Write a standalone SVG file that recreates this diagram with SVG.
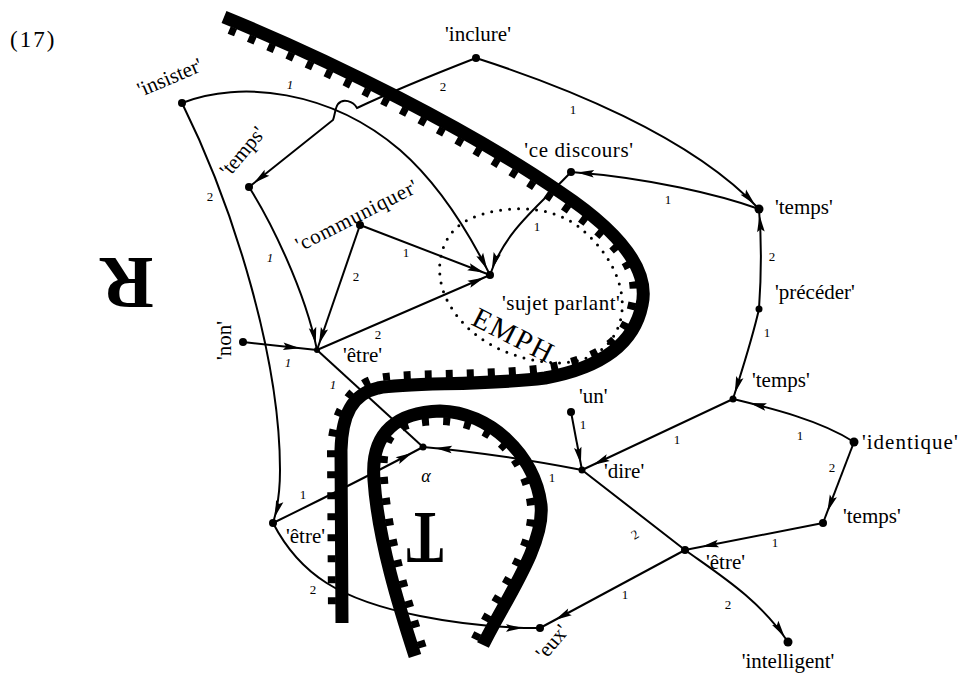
<svg xmlns="http://www.w3.org/2000/svg" width="959" height="679" viewBox="0 0 959 679">
<style>
.lbl{font-family:"Liberation Serif","Times New Roman",serif;font-size:21px;fill:#000}
.num{font-family:"Liberation Serif","Times New Roman",serif;font-size:13px;fill:#000;text-anchor:middle}
.e{fill:none;stroke:#000;stroke-width:2}
.band{fill:none;stroke:#000;stroke-width:13;stroke-linecap:butt;stroke-linejoin:round}
.teeth{fill:none;stroke:#000;stroke-width:8;stroke-dasharray:7 14}
.big{font-family:"Liberation Serif","Times New Roman",serif;font-weight:bold;fill:#000;text-anchor:middle;font-size:74px}
</style>
<defs>
<marker id="a7" viewBox="-45 -10 55 20" markerWidth="55" markerHeight="20" refX="0" refY="0" orient="auto" markerUnits="userSpaceOnUse"><path d="M-23,-3.8 L-6,0 L-23,3.8 L-20,0 Z" fill="#000"/></marker>
<marker id="a12" viewBox="-45 -10 55 20" markerWidth="55" markerHeight="20" refX="0" refY="0" orient="auto" markerUnits="userSpaceOnUse"><path d="M-29,-3.8 L-12,0 L-29,3.8 L-26,0 Z" fill="#000"/></marker>
<marker id="a17" viewBox="-45 -10 55 20" markerWidth="55" markerHeight="20" refX="0" refY="0" orient="auto" markerUnits="userSpaceOnUse"><path d="M-34,-3.8 L-17,0 L-34,3.8 L-31,0 Z" fill="#000"/></marker>
</defs>
<rect width="959" height="679" fill="#fff"/>

<text class="lbl" x="10" y="47" style="font-size:23px;letter-spacing:2px">(17)</text>

<g id="regions">
<path class="band" d="M 224 17 C 330 60, 470 130, 560 192 C 620 232, 650 270, 642 305 C 634 345, 600 368, 545 378 C 480 386, 410 382, 378 388 C 352 394, 342 415, 341 450 L 342 623"/>
<path class="teeth" stroke-dashoffset="-10" d="M 220.2 26.3 C 326.2 69.3, 464.3 138.2, 554.3 200.2 C 614.4 240.3, 640.3 267.8, 632.3 302.8 C 624.2 343, 598.2 358.2, 543.2 368.2 C 478.8 376.1, 408.2 372.2, 376.2 378.2 C 349.8 384.3, 332 414.7, 331 449.7 L 332 614"/>
<path class="band" stroke-width="14" d="M 415 656 C 400 610, 378 540, 374 480 C 370 430, 400 412, 440 411 C 490 412, 535 455, 541 505 C 545 545, 505 600, 483 645"/>
<path class="teeth" stroke-dasharray="7 12" stroke-dashoffset="-6" d="M 424.5 652.9 C 409.5 606.9, 388 539.3, 384 479.3 C 380 429.2, 400.3 422, 440.3 421 C 489.8 422, 525.1 456.2, 531.1 506.2 C 535 546, 496 595.6, 474 640.6"/>
<path fill="none" stroke="#000" stroke-width="3" stroke-linecap="round" stroke-dasharray="0 9" d="M 447 300 C 432 270, 440 232, 470 219 C 500 205, 550 203, 580 228 C 605 248, 628 282, 621 318 C 613 352, 585 362, 560 363 C 520 362, 470 345, 447 300 Z"/>
<text class="big" transform="translate(127,283) rotate(180)" y="25">R</text>
<text class="big" transform="translate(425,538) rotate(180) scale(0.75,1)" y="25">T</text>
<text class="lbl" style="font-size:29px;letter-spacing:2px" transform="translate(470,324) rotate(27)">EMPH</text>
</g>

<g id="edges">
<path class="e" marker-end="url(#a7)" d="M 182 103 C 240 80, 330 90, 400 150 C 440 185, 470 235, 490 275"/>
<path class="e" marker-end="url(#a7)" d="M 182 103 C 235 210, 280 360, 280 470 C 280 495, 277 510, 273 523"/>
<path class="e" marker-end="url(#a7)" d="M 476 58 C 440 72, 395 90, 357 108 C 353 101, 343 98, 338 104 C 335 108, 335 115, 333 120 L 249 187"/>
<path class="e" marker-end="url(#a7)" d="M 476 58 C 560 85, 690 135, 759 209"/>
<path class="e" marker-end="url(#a7)" d="M 759 209 C 720 195, 650 178, 571 172"/>
<path class="e" marker-end="url(#a7)" d="M 571 172 C 540 205, 505 230, 490 275"/>
<path class="e" marker-end="url(#a7)" d="M 759 309 C 761 280, 762 245, 759 209"/>
<path class="e" marker-end="url(#a7)" d="M 759 309 C 752 340, 742 370, 733 399"/>
<path class="e" marker-end="url(#a7)" d="M 249 187 C 270 220, 305 290, 317 350"/>
<path class="e" marker-end="url(#a7)" d="M 360 225 L 317 350"/>
<path class="e" marker-end="url(#a7)" d="M 360 225 L 490 275"/>
<path class="e" marker-end="url(#a7)" d="M 317 350 L 490 275"/>
<path class="e" marker-end="url(#a17)" d="M 243 342 L 317 350"/>
<path class="e" d="M 317 350 L 423 447"/>
<path class="e" marker-end="url(#a12)" d="M 582 470 C 540 462, 480 452, 423 447"/>
<path class="e" marker-end="url(#a12)" d="M 273 523 C 320 500, 380 470, 423 447"/>
<path class="e" marker-end="url(#a17)" d="M 273 523 C 300 575, 340 600, 420 616 C 460 624, 500 628, 540 628"/>
<path class="e" marker-end="url(#a7)" d="M 571 412 L 582 470"/>
<path class="e" marker-end="url(#a12)" d="M 733 399 L 582 470"/>
<path class="e" marker-end="url(#a17)" d="M 854 442 C 820 420, 770 408, 733 399"/>
<path class="e" marker-end="url(#a12)" d="M 854 442 L 823 523"/>
<path class="e" marker-end="url(#a17)" d="M 823 523 L 685 550"/>
<path class="e" marker-end="url(#a7)" d="M 582 470 L 685 550 C 720 575, 760 600, 788 642"/>
<path class="e" marker-end="url(#a17)" d="M 685 550 L 540 628"/>
<text class="num" x="290" y="89" font-style="italic">1</text>
<text class="num" x="210" y="201">2</text>
<text class="num" x="443" y="91">2</text>
<text class="num" x="573" y="114">1</text>
<text class="num" x="668" y="204">1</text>
<text class="num" x="537" y="231">1</text>
<text class="num" x="772" y="261">2</text>
<text class="num" x="767" y="337">1</text>
<text class="num" x="270" y="262" font-style="italic">1</text>
<text class="num" x="356" y="281">2</text>
<text class="num" x="406" y="257">1</text>
<text class="num" x="378" y="339">2</text>
<text class="num" x="288" y="367" font-style="italic">1</text>
<text class="num" x="333" y="389" font-style="italic">1</text>
<text class="num" x="303" y="499">1</text>
<text class="num" x="313" y="594">2</text>
<text class="num" x="552" y="482">1</text>
<text class="num" x="583" y="429">1</text>
<text class="num" x="677" y="444">1</text>
<text class="num" x="800" y="440">1</text>
<text class="num" x="832" y="472">2</text>
<text class="num" x="775" y="547">1</text>
<text class="num" x="635" y="539" transform="rotate(-30,635,535)">2</text>
<text class="num" x="728" y="609">2</text>
<text class="num" x="625" y="599">1</text>
</g>

<g id="n-insister"><circle cx="182" cy="103" r="4"/><text class="lbl" transform="translate(141,97) rotate(-23)">'insister'</text></g>
<g id="n-inclure"><circle cx="476" cy="58" r="4"/><text class="lbl" x="478" y="41" text-anchor="middle">'inclure'</text></g>
<g id="n-temps1"><circle cx="249" cy="187" r="4"/><text class="lbl" transform="translate(229,178) rotate(-50)">'temps'</text></g>
<g id="n-communiquer"><circle cx="360" cy="225" r="4"/><text class="lbl" style="letter-spacing:0.8px" transform="translate(300,252) rotate(-27)">'communiquer'</text></g>
<g id="n-cediscours"><circle cx="571" cy="172" r="4"/><text class="lbl" x="579" y="157" text-anchor="middle" style="letter-spacing:0.6px">'ce discours'</text></g>
<g id="n-temps2"><circle cx="759" cy="209" r="4.5"/><text class="lbl" x="775" y="214">'temps'</text></g>
<g id="n-preceder"><circle cx="759" cy="309" r="3.5"/><text class="lbl" x="775" y="299">'précéder'</text></g>
<g id="n-sujet"><circle cx="490" cy="275" r="4"/><text class="lbl" x="502" y="310" style="letter-spacing:0.5px">'sujet parlant'</text></g>
<g id="n-non"><circle cx="243" cy="342" r="4"/><text class="lbl" transform="translate(231,360) rotate(-90)">'non'</text></g>
<g id="n-etre1"><circle cx="317" cy="350" r="3"/><text class="lbl" x="343" y="362">'être'</text></g>
<g id="n-alpha"><circle cx="423" cy="447" r="3.5"/><text class="lbl" x="426" y="482" text-anchor="middle" style="font-style:italic;font-size:18px">α</text></g>
<g id="n-temps3"><circle cx="733" cy="399" r="3.5"/><text class="lbl" x="752" y="387">'temps'</text></g>
<g id="n-un"><circle cx="571" cy="412" r="4"/><text class="lbl" x="579" y="403">'un'</text></g>
<g id="n-identique"><circle cx="854" cy="442" r="4.5"/><text class="lbl" x="862" y="449" style="letter-spacing:1px">'identique'</text></g>
<g id="n-dire"><circle cx="582" cy="470" r="3.5"/><text class="lbl" x="604" y="478">'dire'</text></g>
<g id="n-temps4"><circle cx="823" cy="523" r="4"/><text class="lbl" x="843" y="523">'temps'</text></g>
<g id="n-etre2"><circle cx="273" cy="523" r="4"/><text class="lbl" x="286" y="543">'être'</text></g>
<g id="n-etre3"><circle cx="685" cy="550" r="4"/><text class="lbl" x="706" y="569">'être'</text></g>
<g id="n-eux"><circle cx="540" cy="628" r="4"/><text class="lbl" transform="translate(545,661) rotate(-50)">'eux'</text></g>
<g id="n-intelligent"><circle cx="788" cy="642" r="4.5"/><text class="lbl" x="788" y="668" text-anchor="middle">'intelligent'</text></g>
</svg>
